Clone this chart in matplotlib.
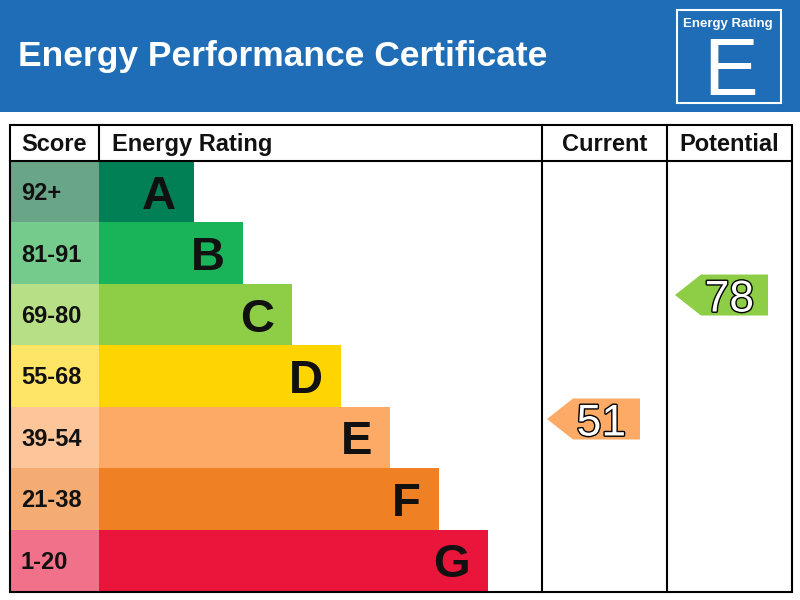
"""
Energy Performance Certificate rating chart, drawn with matplotlib patches.
"""

import matplotlib
matplotlib.use("Agg")
import matplotlib.pyplot as plt
from matplotlib.patches import Rectangle, Polygon
from matplotlib import font_manager as fm
import matplotlib.patheffects as pe

# ---- data -------------------------------------------------------------
bands        = ["A", "B", "C", "D", "E", "F", "G"]
score_ranges = ["92+", "81-91", "69-80", "55-68", "39-54", "21-38", "1-20"]
band_lo      = [92, 81, 69, 55, 39, 21, 1]
band_hi      = [100, 91, 80, 68, 54, 38, 20]
band_colors  = ["#008054", "#19b459", "#8dce46", "#ffd500",
                "#fcaa65", "#ef8023", "#e9153b"]
score_colors = ["#69a688", "#75cb8c", "#b7df86", "#ffe566",
                "#fdc59a", "#f4ac73", "#f07189"]
current_score   = 51
potential_score = 78
current_band    = "E"


def font_file(weight):
    # avoid picking up "Liberation Sans Narrow"
    for f in fm.fontManager.ttflist:
        if (f.name == "Liberation Sans" and "Narrow" not in f.fname
                and f.weight == weight and f.style == "normal"):
            return f.fname
    return None


def fp(size, bold=False):
    path = font_file(700 if bold else 400)
    if path:
        return fm.FontProperties(fname=path, size=size)
    return fm.FontProperties(family="DejaVu Sans", size=size,
                             weight="bold" if bold else "normal")


# ---- layout (pixels) --------------------------------------------------
LW = 1.5
left, right = 10, 792
top, head_bot, bottom = 125, 161, 592
score_x = 99
cur_x, pot_x = 542, 667
row_h = (bottom - 1 - head_bot) / len(bands)
bar0, bar_step = 194, 49

fig = plt.figure(figsize=(8, 6), dpi=100)
ax = fig.add_axes([0, 0, 1, 1])
ax.set_xlim(0, 800)
ax.set_ylim(600, 0)
ax.axis("off")

# header band
ax.add_patch(Rectangle((0, 0), 800, 112, color="#1e6db6", lw=0))
ax.text(18, 66, "Energy Performance Certificate", color="white",
        fontproperties=fp(25.5, True), va="baseline")
ax.add_patch(Rectangle((677, 10), 104, 93, fill=False, ec="white", lw=LW))
ax.text(728, 27, "Energy Rating", color="white", fontproperties=fp(9.5, True),
        ha="center", va="baseline")
ax.text(731, 95, current_band, color="white", fontproperties=fp(59),
        ha="center", va="baseline")

# bands
for i, (b, sr) in enumerate(zip(bands, score_ranges)):
    y0 = head_bot + i * row_h
    end = bar0 + bar_step * i
    ax.add_patch(Rectangle((left, y0), score_x - left, row_h,
                           color=score_colors[i], lw=0))
    ax.add_patch(Rectangle((score_x, y0), end - score_x, row_h,
                           color=band_colors[i], lw=0))
    yc = y0 + row_h / 2
    ax.text(21, yc + 8.5, sr, fontproperties=fp(17, True),
            color="#111111", va="baseline")
    ax.text(end - 18, yc + 17, b, fontproperties=fp(34, True),
            color="#111111", ha="right", va="baseline")


def band_of(s):
    return next(k for k in range(len(bands)) if band_lo[k] <= s <= band_hi[k])


def arrow(score, x_tip):
    i = band_of(score)
    frac = (score - band_lo[i]) / (band_hi[i] - band_lo[i])
    yc = head_bot + (i + 1) * row_h - frac * row_h
    h, tip, w = 41, 26, 67
    pts = [(x_tip, yc), (x_tip + tip, yc - h / 2), (x_tip + tip + w, yc - h / 2),
           (x_tip + tip + w, yc + h / 2), (x_tip + tip, yc + h / 2)]
    ax.add_patch(Polygon(pts, closed=True, color=band_colors[i], lw=0))
    t = ax.text(x_tip + tip + w - 14, yc + 16.5, str(score),
                fontproperties=fp(32), color="white", ha="right", va="baseline")
    t.set_path_effects([pe.withStroke(linewidth=2, foreground="black")])


arrow(current_score, 547)
arrow(potential_score, 675)

# table frame
ax.add_patch(Rectangle((left, top), right - left, bottom - top,
                       fill=False, ec="black", lw=LW))
ax.plot([left, right], [head_bot, head_bot], color="black", lw=LW)
ax.plot([score_x, score_x], [top, head_bot], color="black", lw=LW)
for x in (cur_x, pot_x):
    ax.plot([x, x], [top, bottom], color="black", lw=LW)

hy = 151
hfp = fp(17, True)
ax.text(21, hy, "Score", fontproperties=hfp, color="#111111", va="baseline")
ax.text(112, hy, "Energy Rating", fontproperties=hfp, color="#111111",
        va="baseline")
ax.text((cur_x + pot_x) / 2, hy, "Current", fontproperties=hfp,
        color="#111111", ha="center", va="baseline")
ax.text((pot_x + right) / 2, hy, "Potential", fontproperties=hfp,
        color="#111111", ha="center", va="baseline")

fig.savefig("out.png", dpi=100)
